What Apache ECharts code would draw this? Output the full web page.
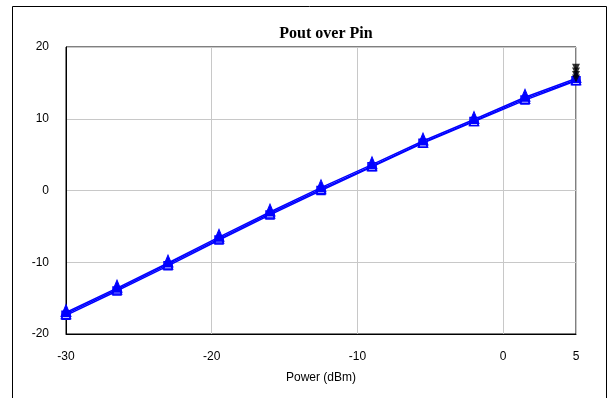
<!DOCTYPE html>
<html>
<head>
<meta charset="utf-8">
<script src="https://cdn.jsdelivr.net/npm/echarts@6/dist/echarts.min.js"></script>
<style>html,body{margin:0;padding:0;background:#fff}#c{width:610px;height:398px}</style>
</head>
<body>
<div id="c"></div>
<script>
const pin = [-30, -26.5, -23, -19.5, -16, -12.5, -9, -5.5, -2, 1.5, 5];
const poutTri = [-17.0, -13.6, -10.1, -6.5, -3.0, 0.4, 3.6, 6.9, 9.9, 13.0, 15.6];
const poutMid = [-17.2, -13.8, -10.3, -6.7, -3.2, 0.2, 3.4, 6.7, 9.7, 12.8, 15.4];
const poutSq  = [-17.4, -14.0, -10.5, -6.9, -3.4, 0.0, 3.3, 6.6, 9.6, 12.6, 15.3];
const endX = [5, 5, 5, 5];
const endY = [15.6, 16.1, 16.6, 17.1];
const xTicks = [-30, -20, -10, 0, 5];
const yTicks = [-20, -10, 0, 10, 20];

const zip = (a, b) => a.map((v, i) => [v, b[i]]);
const blue = '#0000ff';
const chart = echarts.init(document.getElementById('c'));
chart.setOption({
  animation: false,
  title: {
    text: 'Pout over Pin', left: 321, top: 21, textAlign: 'center',
    textStyle: {fontFamily: 'Liberation Serif', fontWeight: 'bold', fontSize: 16, color: '#000'}
  },
  graphic: [{
    type: 'rect', shape: {x: 12.5, y: 6.5, width: 594, height: 400},
    style: {fill: 'none', stroke: '#000', lineWidth: 1}, silent: true, z: -1
  }],
  grid: {left: 66, right: 34, top: 47, bottom: 64, show: true, borderColor: '#000', borderWidth: 1},
  xAxis: {
    type: 'value', min: xTicks[0], max: xTicks[xTicks.length - 1], interval: 10,
    name: 'Power (dBm)', nameLocation: 'middle', nameGap: 38,
    nameTextStyle: {fontFamily: 'Liberation Sans', fontSize: 12, color: '#000'},
    axisLine: {show: true, onZero: false, lineStyle: {color: '#000'}},
    axisTick: {show: false},
    axisLabel: {fontFamily: 'Liberation Sans', fontSize: 12, color: '#000', margin: 17, showMaxLabel: true, showMinLabel: true},
    splitLine: {show: true, lineStyle: {color: '#c8c8c8', width: 1}}
  },
  yAxis: {
    type: 'value', min: yTicks[0], max: yTicks[yTicks.length - 1], interval: 10,
    axisLine: {show: true, onZero: false, lineStyle: {color: '#000'}},
    axisTick: {show: false},
    axisLabel: {fontFamily: 'Liberation Sans', fontSize: 12, color: '#000', margin: 17},
    splitLine: {show: true, lineStyle: {color: '#c8c8c8', width: 1}}
  },
  series: [
    {type: 'line', data: zip(pin, poutSq), symbol: 'rect', symbolSize: 8, showAllSymbol: true,
     lineStyle: {color: blue, width: 1.5}, itemStyle: {color: '#fff', borderColor: blue, borderWidth: 1.5}},
    {type: 'line', data: zip(pin, poutMid), symbol: 'triangle', symbolSize: 9, showAllSymbol: true,
     lineStyle: {color: blue, width: 1.5}, itemStyle: {color: '#fff', borderColor: blue, borderWidth: 1.5}},
    {type: 'line', data: zip(pin, poutTri), symbol: 'triangle', symbolSize: [10, 12], symbolOffset: [0, -2], showAllSymbol: true,
     lineStyle: {color: blue, width: 1.5}, itemStyle: {color: blue, borderColor: blue}},
    {type: 'scatter', data: zip(endX, endY), symbol: 'triangle', symbolRotate: 180, symbolSize: 8,
     itemStyle: {color: '#000'}, z: 5}
  ]
});
</script>
</body>
</html>
